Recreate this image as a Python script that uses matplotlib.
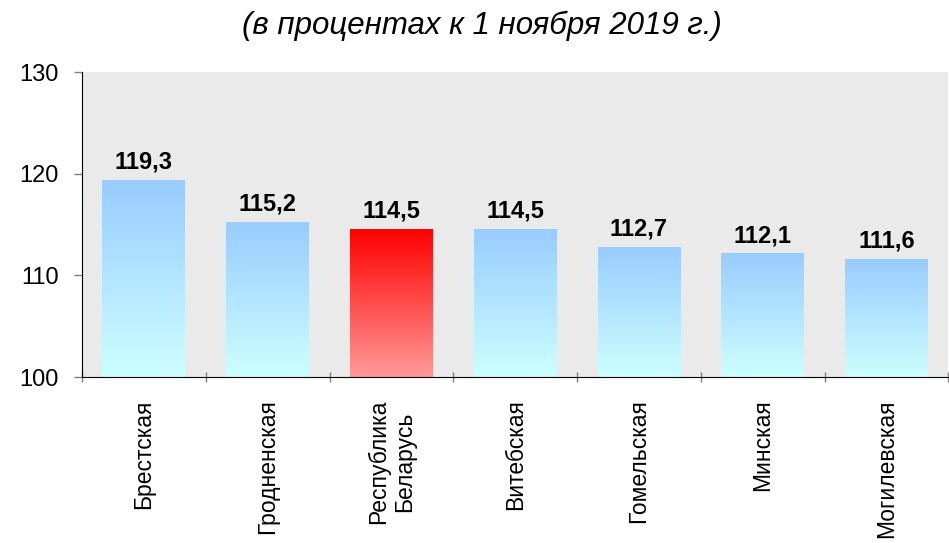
import numpy as np
import matplotlib.pyplot as plt
from matplotlib.colors import LinearSegmentedColormap

plt.rcParams['font.family'] = ['Liberation Sans', 'DejaVu Sans']

regions = ['Брестская', 'Гродненская', 'Республика\nБеларусь', 'Витебская',
           'Гомельская', 'Минская', 'Могилевская']
values = [119.3, 115.2, 114.5, 114.5, 112.7, 112.1, 111.6]
value_labels = ['119,3', '115,2', '114,5', '114,5', '112,7', '112,1', '111,6']
highlight = 2  # Республика Беларусь

blue_cmap = LinearSegmentedColormap.from_list('blue', ['#CCFFFF', '#99CCFF'])
red_cmap = LinearSegmentedColormap.from_list('red', ['#FF9999', '#FF0000'])

fig = plt.figure(figsize=(9.49, 5.43), dpi=100)
ax = fig.add_axes([0.0864, 0.3057, 0.913, 0.5617])
ax.set_facecolor('#EAEAEA')

x = np.arange(len(regions))
bars = ax.bar(x, np.array(values) - 100, bottom=100, width=0.67, color='none')

grad = np.linspace(0, 1, 256).reshape(-1, 1)
for i, b in enumerate(bars):
    x0, w = b.get_x(), b.get_width()
    y0, y1 = b.get_y(), b.get_y() + b.get_height()
    cmap = red_cmap if i == highlight else blue_cmap
    ax.imshow(grad, cmap=cmap, origin='lower', aspect='auto',
              extent=(x0, x0 + w, y0, y1), zorder=2)
    ax.annotate(value_labels[i], (x[i], y1), xytext=(0, 5),
                textcoords='offset points', ha='center', va='bottom',
                fontsize=17, fontweight='bold')

ax.set_xlim(-0.5, len(regions) - 0.5)
ax.set_ylim(100, 130)
ax.set_yticks([100, 110, 120, 130])
ax.tick_params(axis='y', labelsize=17, color='#808080', length=6, width=1, pad=11)

# category labels at bar centres, tick marks between categories
ax.set_xticks(x)
ax.set_xticklabels(regions, rotation=90, fontsize=16.5)
ax.tick_params(axis='x', which='major', length=0, pad=16)
ax.set_xticks(np.arange(-0.5, len(regions)), minor=True)
ax.tick_params(axis='x', which='minor', length=7, width=1, color='#808080',
               direction='inout')

for side in ['top', 'right']:
    ax.spines[side].set_visible(False)
ax.spines['left'].set_color('black')
ax.spines['bottom'].set_color('black')

fig.text(0.508, 0.953, '(в процентах к 1 ноября 2019 г.)', ha='center', va='center',
         fontsize=22.5, style='italic')

plt.savefig('out.png', dpi=100)
